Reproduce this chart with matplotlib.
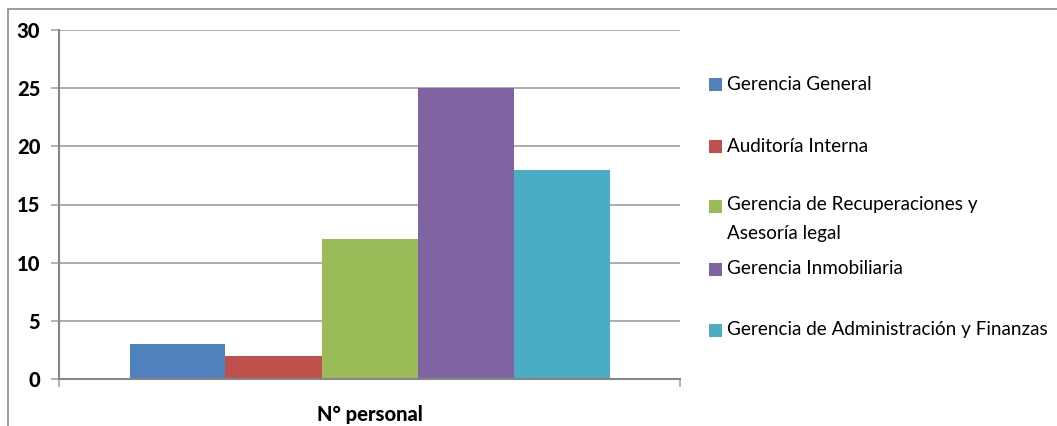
import matplotlib
matplotlib.use("Agg")
import matplotlib.pyplot as plt
from matplotlib.patches import Rectangle

# Data
categories = ["N° personal"]
series_names = [
    "Gerencia General",
    "Auditoría Interna",
    "Gerencia de Recuperaciones y\nAsesoría legal",
    "Gerencia Inmobiliaria",
    "Gerencia de Administración y Finanzas",
]
series_values = [3, 2, 12, 25, 18]
series_colors = ["#4F81BD", "#C0504D", "#9BBB59", "#8064A2", "#4BACC6"]
y_ticks = [0, 5, 10, 15, 20, 25, 30]

W, H = 1057, 426
DPI = 100
fig = plt.figure(figsize=(W / DPI, H / DPI), dpi=DPI)
fig.patch.set_facecolor("white")

FONT = "Lato"


def fx(px):
    return px / W


def fy(py):
    return 1 - py / H


# Chart border (runs past the right and bottom edges)
fig.add_artist(Rectangle((fx(8), fy(440)), fx(1100) - fx(8), fy(9) - fy(440),
                         transform=fig.transFigure, fill=False,
                         edgecolor="#8C8C8C", linewidth=1.2))

# Plot area
left, right, top, bottom = 59, 680, 30, 379
ax = fig.add_axes([fx(left), fy(bottom), fx(right) - fx(left), fy(top) - fy(bottom)])

n = len(series_values)
bar_w = 96 / (right - left)  # axis units (xlim 0..1)
group_start = 0.5 - n * bar_w / 2
for i, (val, col) in enumerate(zip(series_values, series_colors)):
    ax.bar(group_start + (i + 0.5) * bar_w, val, width=bar_w, color=col,
           edgecolor="none", zorder=3)

ax.set_xlim(0, 1)
ax.set_ylim(0, 30)
ax.set_yticks(y_ticks)
ax.set_yticklabels([str(t) for t in y_ticks], fontfamily=FONT,
                   fontweight="black", fontsize=14.5)
ax.yaxis.grid(True, color="#A6A6A6", linewidth=1.3, zorder=0)
ax.tick_params(axis="y", length=6, width=1.2, color="#A6A6A6", pad=7.5)
ax.set_xticks([0, 1])
ax.set_xticklabels(["", ""])
ax.tick_params(axis="x", length=6, width=1.2, color="#A6A6A6")
ax.text(0.5, -0.075, categories[0], transform=ax.transAxes, ha="center",
        va="top", fontfamily=FONT, fontweight="black", fontsize=14.5)

for s in ["top", "right"]:
    ax.spines[s].set_visible(False)
for s in ["left", "bottom"]:
    ax.spines[s].set_color("#868686")
    ax.spines[s].set_linewidth(1.5)
    ax.spines[s].set_zorder(4)

# Legend
legend_y = [84, 146, 207, 269, 330]
for name, col, y in zip(series_names, series_colors, legend_y):
    fig.add_artist(Rectangle((fx(709), fy(y + 6.5)), fx(13), 13 / H,
                             transform=fig.transFigure, facecolor=col,
                             edgecolor="none"))
    if "\n" in name:
        fig.text(fx(727), fy(y - 11), name, ha="left", va="top",
                 fontfamily=FONT, fontsize=13.6, linespacing=1.85)
    else:
        fig.text(fx(727), fy(y), name, ha="left", va="center",
                 fontfamily=FONT, fontsize=13.6)

fig.savefig("out.png", dpi=DPI, facecolor="white")
